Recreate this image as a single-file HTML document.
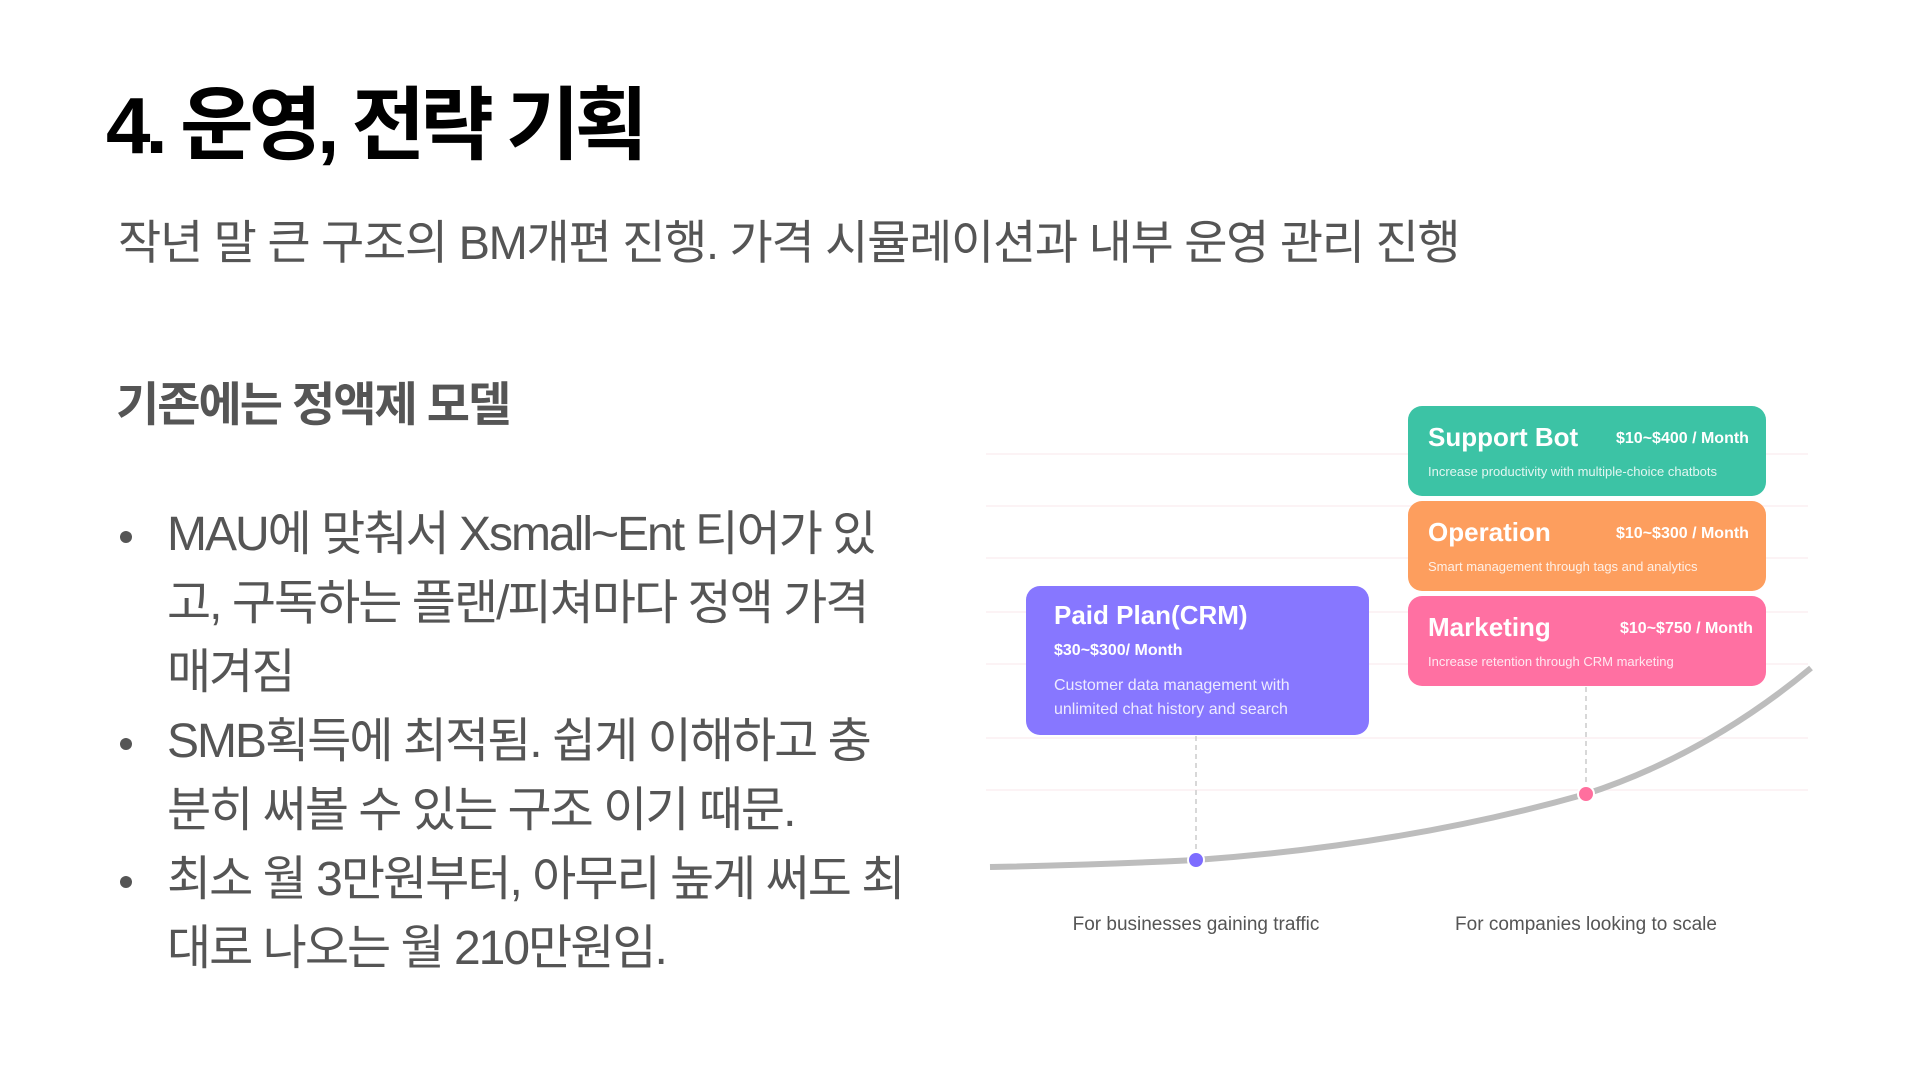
<!DOCTYPE html>
<html><head><meta charset="utf-8"><style>
*{margin:0;padding:0;box-sizing:border-box}
body{width:1920px;height:1080px;background:#fff;position:relative;overflow:hidden;font-family:"Liberation Sans","Noto Sans CJK KR",sans-serif}
.abs{position:absolute;white-space:nowrap}
h1{position:absolute;left:106px;top:86px;font-size:80px;font-weight:bold;color:#000;letter-spacing:-5px;line-height:1}
.sub{left:118px;top:204px;font-size:47px;color:#555;letter-spacing:-1.3px}
.h2{left:116px;top:366px;font-size:47px;font-weight:bold;color:#555;letter-spacing:-2px}
ul{position:absolute;left:120px;top:500px;width:790px;list-style:none;color:#555;font-size:48px;line-height:69px;letter-spacing:-2px}
li{position:relative;padding-left:47px}
li:before{content:"";position:absolute;left:0;top:31px;width:12px;height:12px;border-radius:50%;background:#555}
#chart{position:absolute;left:-28px;top:-12px;width:1920px;height:1080px}
.box{position:absolute;border-radius:14px;color:#fff;font-family:"Liberation Sans",sans-serif}
.t{position:absolute;font-weight:bold;font-size:26px;white-space:nowrap}
.p{position:absolute;font-weight:bold;font-size:16px;white-space:nowrap}
.d{position:absolute;font-size:13px;white-space:nowrap;opacity:.85}
.lab{font-size:19px;color:#555;transform:translateX(-50%)}
</style></head><body>
<h1>4. 운영, 전략 기획</h1>
<div class="abs sub">작년 말 큰 구조의 BM개편 진행. 가격 시뮬레이션과 내부 운영 관리 진행</div>
<div class="abs h2">기존에는 정액제 모델</div>
<ul>
<li>MAU에 맞춰서 Xsmall~Ent 티어가 있고, 구독하는 플랜/피쳐마다 정액 가격 매겨짐</li>
<li>SMB획득에 최적됨. 쉽게 이해하고 충<br>분히 써볼 수 있는 구조 이기 때문.</li>
<li>최소 월 3만원부터, 아무리 높게 써도 최대로 나오는 월 210만원임.</li>
</ul>
<div id="chart">
<svg class="abs" style="left:0;top:0" width="1920" height="1080">
<g stroke="#fbeff2" stroke-width="1.5">
<line x1="1014" y1="466" x2="1836" y2="466"/><line x1="1014" y1="518" x2="1836" y2="518"/>
<line x1="1014" y1="570" x2="1836" y2="570"/><line x1="1014" y1="624" x2="1836" y2="624"/>
<line x1="1014" y1="676" x2="1836" y2="676"/><line x1="1014" y1="750" x2="1836" y2="750"/>
<line x1="1014" y1="802" x2="1836" y2="802"/>
</g>
<path d="M1018,879 Q1124,877 1224,872 Q1434,857 1614,806 Q1734,767 1839,680" fill="none" stroke="#bdbdbd" stroke-width="6"/>
<line x1="1224" y1="748" x2="1224" y2="866" stroke="#ccc" stroke-width="1.5" stroke-dasharray="5,4"/>
<line x1="1614" y1="699" x2="1614" y2="800" stroke="#ccc" stroke-width="1.5" stroke-dasharray="5,4"/>
<circle cx="1224" cy="872" r="8" fill="#7d6cff" stroke="#fff" stroke-width="2"/>
<circle cx="1614" cy="806" r="8" fill="#ff6f9e" stroke="#fff" stroke-width="2"/>
</svg>
<div class="box" style="left:1436px;top:418px;width:358px;height:90px;background:#3cc3a5">
<div class="t" style="left:20px;top:16px">Support Bot</div>
<div class="p" style="left:208px;top:24px">$10~$400 / Month</div>
<div class="d" style="left:20px;top:58px">Increase productivity with multiple-choice chatbots</div></div>
<div class="box" style="left:1436px;top:513px;width:358px;height:90px;background:#fd9e5e">
<div class="t" style="left:20px;top:16px">Operation</div>
<div class="p" style="left:208px;top:24px">$10~$300 / Month</div>
<div class="d" style="left:20px;top:58px">Smart management through tags and analytics</div></div>
<div class="box" style="left:1436px;top:608px;width:358px;height:90px;background:#ff70a2">
<div class="t" style="left:20px;top:16px">Marketing</div>
<div class="p" style="left:212px;top:24px">$10~$750 / Month</div>
<div class="d" style="left:20px;top:58px">Increase retention through CRM marketing</div></div>
<div class="box" style="left:1054px;top:598px;width:343px;height:149px;background:#8777ff">
<div class="t" style="left:28px;top:14px">Paid Plan(CRM)</div>
<div class="p" style="left:28px;top:56px">$30~$300/ Month</div>
<div class="d" style="left:28px;top:88px;font-size:16px;line-height:24px">Customer data management with<br>unlimited chat history and search</div></div>
<div class="abs lab" style="left:1224px;top:926px">For businesses gaining traffic</div>
<div class="abs lab" style="left:1614px;top:926px">For companies looking to scale</div>
</div>
</body></html>
